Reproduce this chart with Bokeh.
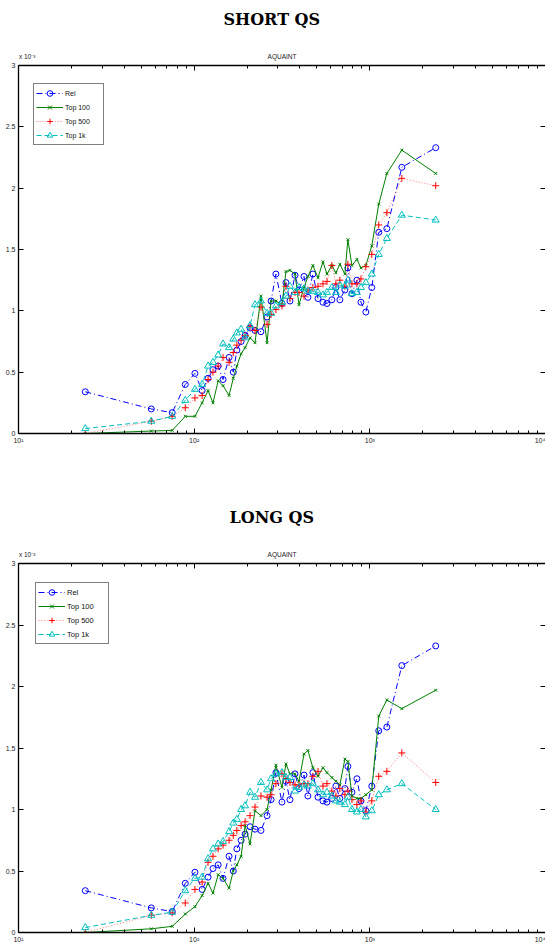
from bokeh.plotting import figure
from bokeh.layouts import column
from bokeh.models import (Range1d, FixedTicker, LinearAxis, LogAxis,
                          CustomJSTickFormatter)
from bokeh.embed import file_html
from bokeh.resources import INLINE

# ---------------- data (y in units of 1e-3) ----------------
x_vals = [24, 57, 75, 89, 101, 111, 120, 128, 137, 146, 158, 167, 175, 185, 195,
          208, 222, 240, 260, 274, 292, 316, 333, 351, 375, 395, 422, 444, 474, 507,
          541, 570, 608, 641, 675, 721, 750, 791, 844, 890, 949, 1026, 1124, 1250,
          1521, 2371]

rel = [0.34, 0.20, 0.17, 0.40, 0.49, 0.35, 0.45, 0.52, 0.55, 0.44, 0.62, 0.50, 0.68,
       0.75, 0.80, 0.86, 0.84, 0.83, 0.95, 1.08, 1.30, 1.06, 1.23, 1.08, 1.29, 1.17,
       1.28, 1.11, 1.30, 1.10, 1.07, 1.06, 1.09, 1.19, 1.09, 1.17, 1.35, 1.14, 1.25,
       1.07, 0.99, 1.19, 1.64, 1.67, 2.17, 2.33]

short_top100 = [0.0, 0.02, 0.025, 0.14, 0.14, 0.25, 0.35, 0.25, 0.43, 0.39, 0.31, 0.45,
                0.55, 0.65, 0.70, 0.78, 0.74, 1.12, 0.74, 1.08, 1.08, 1.05, 1.32, 1.33,
                1.30, 1.05, 1.19, 1.28, 1.37, 1.27, 1.40, 1.30, 1.37, 1.31, 1.38, 1.30,
                1.58, 1.37, 1.42, 1.35, 1.37, 1.53, 1.87, 2.12, 2.31, 2.12]
short_top500 = [0.0, 0.10, 0.14, 0.21, 0.29, 0.31, 0.44, 0.50, 0.55, 0.62, 0.58, 0.66,
                0.72, 0.76, 0.80, 0.87, 0.84, 1.03, 0.89, 0.97, 1.01, 1.04, 1.20, 1.10,
                1.15, 1.15, 1.12, 1.17, 1.19, 1.20, 1.22, 1.24, 1.37, 1.22, 1.25, 1.20,
                1.38, 1.22, 1.22, 1.26, 1.36, 1.46, 1.70, 1.80, 2.08, 2.02]
short_top1k = [0.04, 0.10, 0.14, 0.27, 0.36, 0.40, 0.55, 0.58, 0.64, 0.73, 0.70, 0.77,
               0.82, 0.85, 0.78, 0.88, 1.05, 1.08, 0.98, 0.98, 1.04, 1.07, 1.12, 1.20,
               1.15, 1.19, 1.18, 1.16, 1.16, 1.15, 1.13, 1.15, 1.19, 1.15, 1.21, 1.20,
               1.25, 1.14, 1.15, 1.19, 1.23, 1.30, 1.46, 1.59, 1.78, 1.74]

long_top100 = [0.0, 0.03, 0.05, 0.15, 0.21, 0.30, 0.40, 0.32, 0.47, 0.44, 0.36, 0.50,
               0.55, 0.62, 0.87, 0.72, 0.99, 0.95, 1.00, 1.16, 1.36, 1.18, 1.37, 1.29,
               1.29, 1.23, 1.45, 1.48, 1.34, 1.27, 1.34, 1.30, 1.26, 1.23, 1.20, 1.41,
               1.39, 1.11, 1.09, 1.09, 1.12, 1.16, 1.76, 1.89, 1.82, 1.97]
long_top500 = [0.0, 0.14, 0.16, 0.24, 0.35, 0.41, 0.57, 0.62, 0.68, 0.71, 0.75, 0.79,
               0.83, 0.87, 0.90, 0.95, 1.02, 1.11, 1.10, 1.12, 1.21, 1.29, 1.25, 1.22,
               1.20, 1.20, 1.21, 1.21, 1.27, 1.31, 1.19, 1.21, 1.15, 1.11, 1.17, 1.12,
               1.15, 1.08, 1.04, 1.07, 0.98, 1.07, 1.27, 1.31, 1.46, 1.22]
long_top1k = [0.04, 0.14, 0.165, 0.34, 0.44, 0.45, 0.60, 0.68, 0.72, 0.74, 0.82, 0.89,
              0.92, 1.00, 1.03, 1.14, 1.10, 1.22, 1.16, 1.25, 1.29, 1.30, 1.26, 1.26,
              1.15, 1.18, 1.20, 1.19, 1.21, 1.16, 1.12, 1.14, 1.11, 1.07, 1.06, 1.04,
              1.10, 1.00, 0.98, 1.00, 0.94, 0.99, 1.12, 1.16, 1.21, 1.00]

x_major = [10, 100, 1000, 10000]
x_minor = [m * 10 ** e for e in (1, 2, 3) for m in range(2, 10)]
y_ticks = [0, 0.5, 1, 1.5, 2, 2.5, 3]
# anchor positions (data x) for the small texts above the frame
exp_anchor = 11.2
subtitle_anchor = 316.2

FONT = "Liberation Sans"
BLUE = "#0000FF"
GREEN = "#008000"
RED = "#FF0000"
CYAN = "#00BFBF"


def style_axis(ax, labels=True):
    ax.axis_line_color = "black"
    ax.axis_line_width = 1.3
    ax.major_tick_in = 5
    ax.major_tick_out = 0
    ax.minor_tick_in = 3
    ax.minor_tick_out = 0
    ax.major_tick_line_color = "black"
    ax.minor_tick_line_color = "black"
    ax.major_label_text_font = FONT
    ax.major_label_text_color = "#222222"
    if labels:
        ax.major_label_text_font_size = "7px"
        ax.major_label_standoff = 3
    else:
        ax.major_label_text_font_size = "1px"
        ax.major_label_text_alpha = 0
        ax.major_label_standoff = 0


x_fmt = CustomJSTickFormatter(code="""
const m = {10: '10\u00b9', 100: '10\u00b2', 1000: '10\u00b3', 10000: '10\u2074'};
return m[Math.round(tick)] || '';
""")
y_fmt = CustomJSTickFormatter(code="return String(Math.round(tick*10)/10);")
blank_fmt = CustomJSTickFormatter(code="return '';")
text_fmt = CustomJSTickFormatter(code="return tick < 50 ? 'x 10\u207b\u00b3' : 'AQUAINT';")


def make_panel(title, top100, top500, top1k, height, frame_top, frame_bottom,
               legend_xy, legend_font, legend_label_w, title_offset, title_standoff):
    p = figure(width=545, height=height, x_axis_type="log",
               x_range=Range1d(10, 10000), y_range=Range1d(0, 3),
               output_backend="svg", toolbar_location=None, title=title,
               min_border_left=18, min_border_right=0,
               min_border_top=frame_top, min_border_bottom=height - frame_bottom)
    p.grid.visible = False
    p.outline_line_color = None
    p.background_fill_color = "white"
    p.border_fill_color = "white"

    p.title.text_font = "DejaVu Serif"
    p.title.text_font_style = "bold"
    p.title.text_font_size = "16px"
    p.title.text_color = "black"
    p.title.align = "left"
    p.title.vertical_align = "top"
    p.title.offset = title_offset
    p.title.standoff = title_standoff

    p.xaxis.ticker = FixedTicker(ticks=x_major, minor_ticks=x_minor)
    p.xaxis.formatter = x_fmt
    p.yaxis.ticker = FixedTicker(ticks=y_ticks, minor_ticks=[])
    p.yaxis.formatter = y_fmt
    for ax in p.xaxis + p.yaxis:
        style_axis(ax)

    top_ax = LogAxis(ticker=FixedTicker(ticks=x_major, minor_ticks=x_minor),
                     formatter=blank_fmt)
    right_ax = LinearAxis(ticker=FixedTicker(ticks=y_ticks, minor_ticks=[]),
                          formatter=blank_fmt)
    style_axis(top_ax, labels=False)
    style_axis(right_ax, labels=False)
    right_ax.axis_line_color = None

    # text-only axis carrying the small "x 10^-3" and "AQUAINT" texts
    txt_ax = LogAxis(ticker=FixedTicker(ticks=[exp_anchor, subtitle_anchor], minor_ticks=[]),
                     formatter=text_fmt)
    txt_ax.axis_line_color = None
    txt_ax.major_tick_line_color = None
    txt_ax.minor_tick_line_color = None
    txt_ax.major_tick_in = 0
    txt_ax.major_tick_out = 0
    txt_ax.major_label_standoff = 6
    txt_ax.major_label_text_font = FONT
    txt_ax.major_label_text_font_size = "6.5px"
    txt_ax.major_label_text_color = "#222222"
    # blank spacer between the small texts and the page title
    txt_ax.axis_label = " "
    txt_ax.axis_label_text_font_size = "1px"
    txt_ax.axis_label_standoff = 5

    p.add_layout(top_ax, "above")
    p.add_layout(txt_ax, "above")
    p.add_layout(right_ax, "right")

    # series
    p.line(x_vals, rel, line_color=BLUE, line_width=1, line_dash="6 3 1 3",
           legend_label="Rel")
    p.scatter(x_vals, rel, marker="circle", size=6, fill_color=None,
              line_color=BLUE, line_width=1, legend_label="Rel")

    p.line(x_vals, top100, line_color=GREEN, line_width=1, legend_label="Top 100")
    p.scatter(x_vals, top100, marker="x", size=4, line_color=GREEN, line_width=1,
              legend_label="Top 100")

    p.line(x_vals, top500, line_color=RED, line_width=1, line_alpha=0.55,
           line_dash="1 2", legend_label="Top 500")
    p.scatter(x_vals, top500, marker="cross", size=7, line_color=RED, line_width=1,
              legend_label="Top 500")

    p.line(x_vals, top1k, line_color=CYAN, line_width=1, line_dash="5 3",
           legend_label="Top 1k")
    p.scatter(x_vals, top1k, marker="triangle", size=7, fill_color=None,
              line_color=CYAN, line_width=1, legend_label="Top 1k")

    lg = p.legend[0]
    lg.location = legend_xy
    lg.border_line_color = "black"
    lg.border_line_width = 1
    lg.background_fill_color = "white"
    lg.background_fill_alpha = 1
    lg.padding = 2
    lg.spacing = 0
    lg.margin = 0
    lg.label_height = 14
    lg.glyph_height = 14
    lg.glyph_width = 27
    lg.label_standoff = 2
    lg.label_width = legend_label_w
    lg.label_text_font = FONT
    lg.label_text_font_size = legend_font
    lg.label_text_color = "#111111"
    return p


# upper figure spans page y 0..498, lower 498..945
p1 = make_panel("SHORT QS", short_top100, short_top500, short_top1k,
                498, 65, 433, (15, 288), "7px", 36, 205, 19)
p2 = make_panel("LONG QS", long_top100, long_top500, long_top1k,
                447, 64, 434, (17, 288), "7.5px", 39, 211, 19)

layout = column(p1, p2, spacing=0)
open("out.html", "w").write(file_html(layout, INLINE))
